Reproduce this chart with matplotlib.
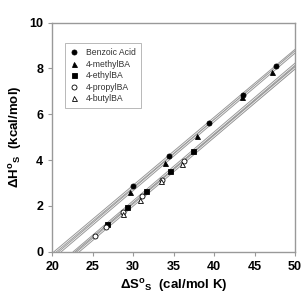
import numpy as np
import matplotlib
matplotlib.use('Agg')
import matplotlib.pyplot as plt

plt.rcParams['font.family'] = ['Liberation Sans', 'DejaVu Sans']
plt.rcParams['mathtext.fontset'] = 'custom'
plt.rcParams['mathtext.rm'] = 'Liberation Sans:bold'
plt.rcParams['mathtext.bf'] = 'Liberation Sans:bold'
plt.rcParams['mathtext.it'] = 'Liberation Sans:bold'

# data (dS in cal/mol K, dH in kcal/mol)
benzoic_s = [29.95, 34.4, 39.4, 43.6, 47.6]
benzoic_h = [2.85, 4.17, 5.63, 6.86, 8.11]
methyl_s = [29.6, 33.9, 37.9, 43.4, 47.1]
methyl_h = [2.61, 3.89, 5.05, 6.75, 7.86]
ethyl_s = [26.8, 29.2, 31.6, 34.6, 37.4]
ethyl_h = [1.22, 1.95, 2.65, 3.54, 4.42]
propyl_s = [25.3, 26.7, 28.8, 31.1, 33.6, 36.3]
propyl_h = [0.70, 1.10, 1.72, 2.42, 3.13, 3.98]
butyl_s = [28.7, 30.8, 33.5, 36.0]
butyl_h = [1.65, 2.28, 3.08, 3.84]

series = [
    ('Benzoic Acid', benzoic_s, benzoic_h, 'o', 'black'),
    ('4-methylBA', methyl_s, methyl_h, '^', 'black'),
    ('4-ethylBA', ethyl_s, ethyl_h, 's', 'black'),
    ('4-propylBA', propyl_s, propyl_h, 'o', 'white'),
    ('4-butylBA', butyl_s, butyl_h, '^', 'white'),
]

fig = plt.figure(figsize=(3.03, 2.98), dpi=100)
ax = fig.add_axes([0.172, 0.155, 0.802, 0.769])

# regression lines, drawn from y=0 to the right edge
for name, s, h, m, fc in series:
    k, b = np.polyfit(s, h, 1)
    x0 = -b / k
    xs = np.array([x0, 50])
    ax.plot(xs, k * xs + b, color='#999999', lw=1.9, zorder=2)
    ax.plot(xs, k * xs + b, color='white', lw=0.5, zorder=2)

for name, s, h, m, fc in series:
    ax.plot(s, h, linestyle='none', marker=m, markersize=3.6,
            markerfacecolor=fc, markeredgecolor='black', markeredgewidth=0.6,
            label=name, zorder=3)

ax.set_xlim(20, 50)
ax.set_ylim(0, 10)
ax.set_xticks(range(20, 51, 5))
ax.set_yticks(range(0, 11, 2))
for sp in ax.spines.values():
    sp.set_color('#999999')
    sp.set_linewidth(1.0)
ax.tick_params(direction='out', length=3, width=0.8, color='#999999',
               labelsize=9)
for lab in ax.get_xticklabels() + ax.get_yticklabels():
    lab.set_fontweight('bold')

ax.set_xlabel(r'$\Delta$S$^{\mathrm{o}}$$_{\mathrm{S}}$  (cal/mol K)',
              fontsize=9.5, fontweight='bold', labelpad=3)
ax.set_ylabel(r'$\Delta$H$^{\mathrm{o}}$$_{\mathrm{S}}$  (kcal/mol)',
              fontsize=9.5, fontweight='bold', labelpad=4)

leg = ax.legend(loc='upper left', bbox_to_anchor=(0.053, 0.912),
                borderaxespad=0, fontsize=6.2,
                frameon=True, fancybox=False, edgecolor='#999999',
                handletextpad=0.8, borderpad=0.6, labelspacing=0.3,
                handlelength=1.0)
leg.get_frame().set_linewidth(0.6)
for t in leg.get_texts():
    t.set_color('#333333')

fig.savefig('out.png', dpi=100)
